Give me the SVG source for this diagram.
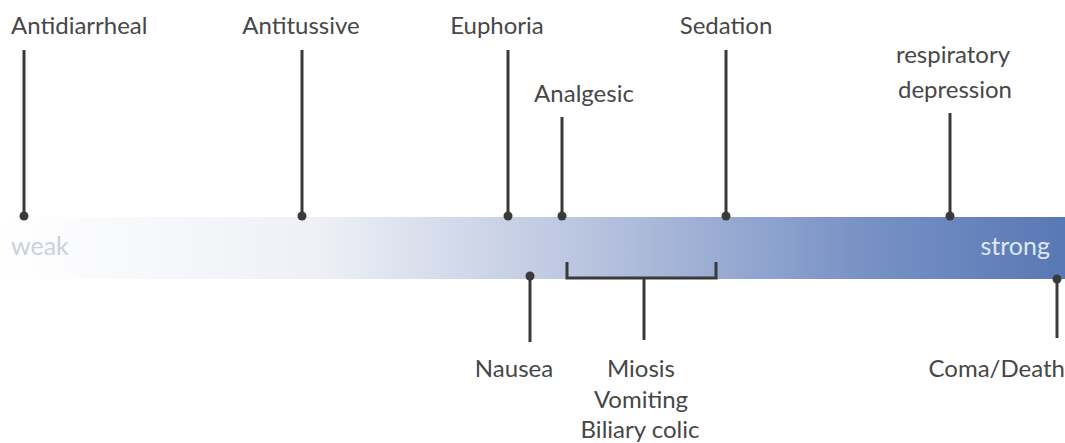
<svg xmlns="http://www.w3.org/2000/svg" width="1065" height="443" viewBox="0 0 1065 443">
<defs>
<linearGradient id="bar" x1="0" y1="0" x2="1" y2="0">
<stop offset="0" stop-color="#ffffff"/>
<stop offset="0.3" stop-color="#eef0f6"/>
<stop offset="0.55" stop-color="#b9c4df"/>
<stop offset="0.8" stop-color="#7a93c6"/>
<stop offset="1" stop-color="#5878b5"/>
</linearGradient>
<style>
.t{font-family:Lato,"Open Sans",sans-serif;font-size:24px;fill:#474747}
.c{text-anchor:middle}
.ln{stroke:#3a3a3a;stroke-width:3;fill:none}
.dot{fill:#3a3a3a}
</style>
</defs>
<rect x="0" y="217" width="1065" height="62" fill="url(#bar)"/>
<text x="11" y="255" style="font-family:Lato,sans-serif;font-size:25px;fill:#c9d1dd">weak</text>
<text x="1050" y="255" text-anchor="end" style="font-family:Lato,sans-serif;font-size:25px;fill:#dfe7f5">strong</text>
<g id="connectors">
<line class="ln" x1="24" y1="50" x2="24" y2="216"/>
<line class="ln" x1="302" y1="50" x2="302" y2="216"/>
<line class="ln" x1="508" y1="50" x2="508" y2="216"/>
<line class="ln" x1="562" y1="117" x2="562" y2="216"/>
<line class="ln" x1="726" y1="50" x2="726" y2="216"/>
<line class="ln" x1="950" y1="113" x2="950" y2="216"/>
<line class="ln" x1="530" y1="276" x2="530" y2="342"/>
<path class="ln" d="M567 262 V278 H716 V262"/>
<line class="ln" x1="644" y1="278" x2="644" y2="340"/>
<line class="ln" x1="1057" y1="279" x2="1057" y2="338"/>
<circle class="dot" cx="24" cy="216" r="4.5"/>
<circle class="dot" cx="302" cy="216" r="4.5"/>
<circle class="dot" cx="508" cy="216" r="4.5"/>
<circle class="dot" cx="562" cy="216" r="4.5"/>
<circle class="dot" cx="726" cy="216" r="4.5"/>
<circle class="dot" cx="950" cy="216" r="4.5"/>
<circle class="dot" cx="530" cy="276" r="4.5"/>
<circle class="dot" cx="1057" cy="279" r="4.5"/>
</g>
<g id="antidiarrheal"><text class="t" x="11" y="34">Antidiarrheal</text></g>
<g id="antitussive"><text class="t c" x="301" y="34">Antitussive</text></g>
<g id="euphoria"><text class="t c" x="497" y="34">Euphoria</text></g>
<g id="analgesic"><text class="t c" x="584" y="102">Analgesic</text></g>
<g id="sedation"><text class="t c" x="726" y="34">Sedation</text></g>
<g id="respiratory"><text class="t c" x="953" y="63">respiratory</text><text class="t c" x="955" y="98">depression</text></g>
<g id="nausea"><text class="t c" x="514" y="377">Nausea</text></g>
<g id="miosis"><text class="t c" x="641" y="377">Miosis</text><text class="t c" x="641" y="408">Vomiting</text><text class="t c" x="640" y="438">Biliary colic</text></g>
<g id="coma"><text class="t" x="1065" y="377" text-anchor="end">Coma/Death</text></g>
</svg>
